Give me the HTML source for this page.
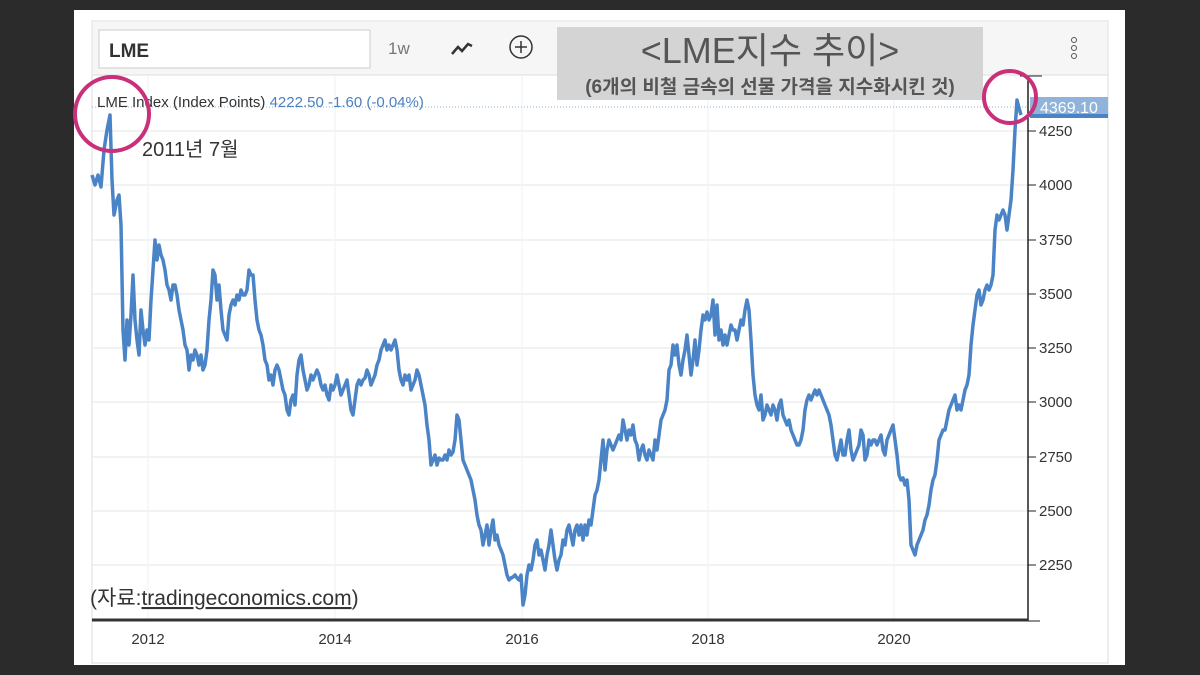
<!DOCTYPE html>
<html><head><meta charset="utf-8"><style>
body{margin:0;background:#2b2b2b;width:1200px;height:675px;overflow:hidden;font-family:"Liberation Sans","Noto Sans CJK KR",sans-serif}
</style></head><body>
<svg width="1200" height="675" xmlns="http://www.w3.org/2000/svg" style="position:absolute;left:0;top:0">
<rect x="74" y="10" width="1051" height="655" fill="#fff"/>
<rect x="92" y="21" width="1016" height="642" fill="#fff" stroke="#ddd"/>
<rect x="93" y="22" width="1014" height="53" fill="#f6f6f6"/>
<line x1="92" y1="75" x2="1108" y2="75" stroke="#ddd"/>
<rect x="99" y="30" width="271" height="38" fill="#fff" stroke="#ccc"/>
<text x="109" y="57" font-size="19" font-weight="bold" fill="#333">LME</text>
<text x="388" y="54" font-size="17" fill="#777">1w</text>
<polyline points="452,54 458,47 462,51 468,44 472,46" fill="none" stroke="#333" stroke-width="2.5"/>
<circle cx="521" cy="47" r="11" fill="none" stroke="#333" stroke-width="1.5"/>
<line x1="515" y1="47" x2="527" y2="47" stroke="#333" stroke-width="1.5"/><line x1="521" y1="41" x2="521" y2="53" stroke="#333" stroke-width="1.5"/>
<circle cx="1074" cy="40" r="2.5" fill="none" stroke="#555"/><circle cx="1074" cy="48" r="2.5" fill="none" stroke="#555"/><circle cx="1074" cy="56" r="2.5" fill="none" stroke="#555"/>
<g stroke="#e6e6e6" stroke-width="1">
<line x1="92" y1="131" x2="1028" y2="131"/><line x1="92" y1="185" x2="1028" y2="185"/><line x1="92" y1="240" x2="1028" y2="240"/><line x1="92" y1="294" x2="1028" y2="294"/><line x1="92" y1="348" x2="1028" y2="348"/><line x1="92" y1="402" x2="1028" y2="402"/><line x1="92" y1="457" x2="1028" y2="457"/><line x1="92" y1="511" x2="1028" y2="511"/><line x1="92" y1="565" x2="1028" y2="565"/>
</g>
<g stroke="#eef1f4"><line x1="148" y1="75" x2="148" y2="620"/><line x1="335" y1="75" x2="335" y2="620"/><line x1="522" y1="75" x2="522" y2="620"/><line x1="708" y1="75" x2="708" y2="620"/><line x1="894" y1="75" x2="894" y2="620"/></g>
<line x1="92" y1="107" x2="1028" y2="107" stroke="#8fb3da" stroke-dasharray="1,2"/>
<rect x="557" y="27" width="426" height="73" fill="#d4d4d4"/>
<text x="770" y="63" font-size="36" fill="#555" text-anchor="middle">&lt;LME지수 추이&gt;</text>
<text x="770" y="93" font-size="19" font-weight="bold" fill="#555" text-anchor="middle">(6개의 비철 금속의 선물 가격을 지수화시킨 것)</text>
<text x="97" y="107" font-size="15" fill="#333">LME Index (Index Points) <tspan fill="#4a80c0">4222.50  -1.60 (-0.04%)</tspan></text>
<text x="142" y="156" font-size="20" fill="#333">2011년 7월</text>
<polyline fill="none" stroke="#4a84c6" stroke-width="3.5" stroke-linejoin="round" points="92,175 95,185 98,175 101,187 104,150 107,130 110,115 112,180 114,215 117,200 119,195 121,225 123,330 125,360 127,320 129,345 131,315 133,275 135,320 137,340 139,355 141,310 143,330 145,345 147,330 149,340 151,300 153,270 155,240 157,260 159,245 161,255 163,260 165,270 167,285 169,290 171,300 173,285 175,285 177,295 179,310 181,320 183,330 185,345 187,350 189,370 191,355 193,360 195,350 197,355 199,365 201,355 203,370 205,365 207,350 209,320 211,300 213,270 215,275 217,300 219,285 221,310 223,330 225,335 227,340 229,315 231,305 233,300 235,305 237,295 239,300 241,290 243,295 245,295 247,290 249,270 251,275 253,275 255,300 257,320 259,330 261,335 263,345 265,360 267,365 269,380 271,375 273,385 275,370 277,365 279,370 281,380 283,390 285,395 287,410 289,415 291,400 293,395 295,405 297,375 299,360 301,355 303,370 305,380 307,390 309,385 311,375 313,380 315,375 317,370 319,375 321,385 323,390 325,385 327,395 329,400 331,385 333,390 335,385 337,375 339,385 341,395 343,390 345,385 347,380 349,395 351,410 353,415 355,400 357,385 359,380 361,385 363,380 365,378 367,370 369,375 371,385 373,380 375,375 377,365 379,360 381,350 383,345 385,340 387,350 389,345 391,350 393,345 395,340 397,350 399,370 401,380 403,385 405,375 407,380 409,375 411,390 413,385 415,380 417,370 419,375 421,385 423,395 425,405 427,425 429,440 431,465 433,460 435,455 437,465 439,458 441,460 443,460 445,455 447,460 449,450 451,455 453,452 455,440 457,415 459,420 461,440 463,460 465,465 467,470 469,475 471,480 473,490 475,500 477,515 479,525 481,530 483,545 485,535 487,525 489,545 491,530 493,520 495,540 497,535 499,545 501,550 503,555 505,565 507,575 509,580 511,578 513,577 515,575 517,578 519,580 521,575 523,605 525,595 527,575 529,565 531,570 533,560 535,545 537,540 539,555 541,550 543,560 545,570 547,555 549,545 551,530 553,545 555,560 557,570 559,560 561,555 563,540 565,545 567,530 569,525 571,535 573,545 575,530 577,525 579,535 581,525 583,540 585,525 587,535 589,520 591,525 593,510 595,495 597,490 599,480 601,460 603,440 605,470 607,450 609,440 611,445 613,450 615,445 617,440 619,435 621,440 623,420 625,430 627,440 629,430 631,435 633,425 635,440 637,445 639,460 641,450 643,445 645,455 647,460 649,450 651,455 653,460 655,440 657,450 659,435 661,420 663,415 665,410 667,400 669,370 671,365 673,345 675,355 677,345 679,365 681,375 683,360 685,350 687,335 689,355 691,375 693,360 695,340 697,365 699,350 701,330 703,315 705,320 707,312 709,320 711,315 713,300 715,335 717,305 719,340 721,330 723,345 725,335 727,345 729,335 731,325 733,330 735,330 737,340 739,330 741,320 743,325 745,310 747,300 749,310 751,340 753,375 755,395 757,405 759,410 761,395 763,420 765,415 767,405 769,410 771,415 773,405 775,410 777,420 779,405 781,400 783,415 785,420 787,425 789,420 791,430 793,435 795,440 797,445 799,445 801,440 803,430 805,410 807,400 809,395 811,400 813,395 815,390 817,395 819,390 821,395 823,400 825,405 827,410 829,415 831,425 833,440 835,455 837,460 839,450 841,440 843,455 845,455 847,440 849,430 851,450 853,460 855,455 857,450 859,445 861,430 863,435 865,460 867,455 869,440 871,445 873,440 875,440 877,445 879,440 881,435 883,450 885,455 887,440 889,435 891,430 893,425 895,440 897,455 899,475 901,480 903,478 905,485 907,480 909,500 911,545 913,550 915,555 917,545 919,540 921,535 923,530 925,520 927,515 929,505 931,490 933,480 935,475 937,460 939,440 941,435 943,430 945,430 947,420 949,410 951,405 953,400 955,395 957,410 959,405 961,410 963,400 965,390 967,385 969,375 971,345 973,325 975,310 977,295 979,290 981,305 983,300 985,290 987,285 989,290 991,285 993,275 995,230 997,215 999,220 1001,215 1003,210 1005,215 1007,230 1009,215 1011,200 1013,170 1015,130 1017,100 1019,108 1021,115"/>
<line x1="1028" y1="76" x2="1028" y2="621" stroke="#222" stroke-width="1.5"/>
<line x1="1020" y1="76" x2="1042" y2="76" stroke="#222"/>
<line x1="92" y1="620" x2="1028" y2="620" stroke="#333" stroke-width="3"/>
<line x1="1028" y1="621" x2="1040" y2="621" stroke="#222"/>
<g font-size="15" fill="#333">
<g stroke="#222"><line x1="1028" y1="131" x2="1036" y2="131"/><line x1="1028" y1="185" x2="1036" y2="185"/><line x1="1028" y1="240" x2="1036" y2="240"/><line x1="1028" y1="294" x2="1036" y2="294"/><line x1="1028" y1="348" x2="1036" y2="348"/><line x1="1028" y1="402" x2="1036" y2="402"/><line x1="1028" y1="457" x2="1036" y2="457"/><line x1="1028" y1="511" x2="1036" y2="511"/><line x1="1028" y1="565" x2="1036" y2="565"/></g>
<text x="1039" y="136">4250</text><text x="1039" y="190">4000</text><text x="1039" y="245">3750</text><text x="1039" y="299">3500</text><text x="1039" y="353">3250</text><text x="1039" y="407">3000</text><text x="1039" y="462">2750</text><text x="1039" y="516">2500</text><text x="1039" y="570">2250</text>
<text x="148" y="644" text-anchor="middle">2012</text><text x="335" y="644" text-anchor="middle">2014</text><text x="522" y="644" text-anchor="middle">2016</text><text x="708" y="644" text-anchor="middle">2018</text><text x="894" y="644" text-anchor="middle">2020</text>
</g>
<rect x="1030" y="97" width="78" height="21" fill="#8fb3da"/>
<rect x="1030" y="114" width="78" height="4" fill="#4a84c6"/>
<text x="1040" y="113" font-size="16" fill="#fff">4369.10</text>
<text x="90" y="605" font-size="21" fill="#333">(자료:<tspan text-decoration="underline">tradingeconomics.com</tspan>)</text>
<circle cx="112" cy="114" r="37" fill="none" stroke="#c8307a" stroke-width="4"/>
<circle cx="1010" cy="97" r="26" fill="none" stroke="#c8307a" stroke-width="4"/>
</svg>
</body></html>
